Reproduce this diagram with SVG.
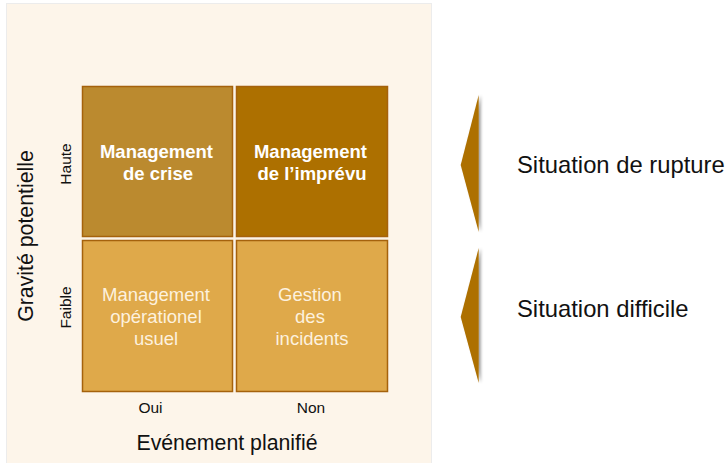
<svg xmlns="http://www.w3.org/2000/svg" width="728" height="463" viewBox="0 0 728 463">
<defs>
<style>
text{font-family:"Liberation Sans",Arial,sans-serif;}
.q{stroke:#a5620c;stroke-width:1.5;}
.tb{fill:#ffffff;font-weight:bold;font-size:18.5px;text-anchor:middle;}
.tn{fill:#fdf1de;font-size:18.5px;text-anchor:middle;}
.ax{fill:#111;font-size:15.5px;text-anchor:middle;}
.big{fill:#111;font-size:21.3px;text-anchor:middle;}
.side{fill:#111;font-size:23.8px;}
.arr{fill:#ad7000;}
</style>
<filter id="sh" x="-50%" y="-10%" width="200%" height="120%">
<feGaussianBlur in="SourceAlpha" stdDeviation="1.5"/>
<feOffset dx="2" dy="0" result="b"/>
<feComponentTransfer><feFuncA type="linear" slope="0.4"/></feComponentTransfer>
<feMerge><feMergeNode/><feMergeNode in="SourceGraphic"/></feMerge>
</filter>
</defs>
<rect x="0" y="0" width="728" height="463" fill="#ffffff"/>
<rect x="6.5" y="3.5" width="425" height="462" fill="#fdf5ea" stroke="#ececec" stroke-width="1"/>
<rect x="232" y="86" width="5" height="306" fill="#fbf3e8"/>
<rect x="82" y="236" width="306" height="5" fill="#fbf3e8"/>
<g id="q-crise">
<rect class="q" x="82.5" y="86.5" width="150" height="150" fill="#bb8a2f"/>
<text class="tb" x="156.5" y="158">Management</text>
<text class="tb" x="158" y="180">de crise</text>
</g>
<g id="q-imprevu">
<rect class="q" x="236.5" y="86.5" width="151" height="150" fill="#ad7000"/>
<text class="tb" x="310.5" y="158">Management</text>
<text class="tb" x="312" y="180">de l’imprévu</text>
</g>
<g id="q-usuel">
<rect class="q" x="82.5" y="240.5" width="150" height="151" fill="#dfa94a"/>
<text class="tn" x="156" y="301">Management</text>
<text class="tn" x="156" y="323">opérationel</text>
<text class="tn" x="156" y="345">usuel</text>
</g>
<g id="q-incidents">
<rect class="q" x="236.5" y="240.5" width="151" height="151" fill="#dfa94a"/>
<text class="tn" x="310" y="301">Gestion</text>
<text class="tn" x="310" y="323">des</text>
<text class="tn" x="312" y="345">incidents</text>
</g>
<g id="axes">
<text class="ax" transform="translate(71,164) rotate(-90)">Haute</text>
<text class="ax" transform="translate(71,307.5) rotate(-90)">Faible</text>
<text class="big" transform="translate(33,236) rotate(-90)">Gravité potentielle</text>
<text class="ax" x="150.5" y="413">Oui</text>
<text class="ax" x="311" y="413">Non</text>
<text class="big" x="227" y="450">Evénement planifié</text>
</g>
<g id="arrow-rupture">
<polygon class="arr" filter="url(#sh)" points="478.7,95 478.7,232 460.7,165"/>
<text class="side" x="517" y="173">Situation de rupture</text>
</g>
<g id="arrow-difficile">
<polygon class="arr" filter="url(#sh)" points="478.7,248 478.7,383 460.7,317"/>
<text class="side" x="517" y="317">Situation difficile</text>
</g>
</svg>
